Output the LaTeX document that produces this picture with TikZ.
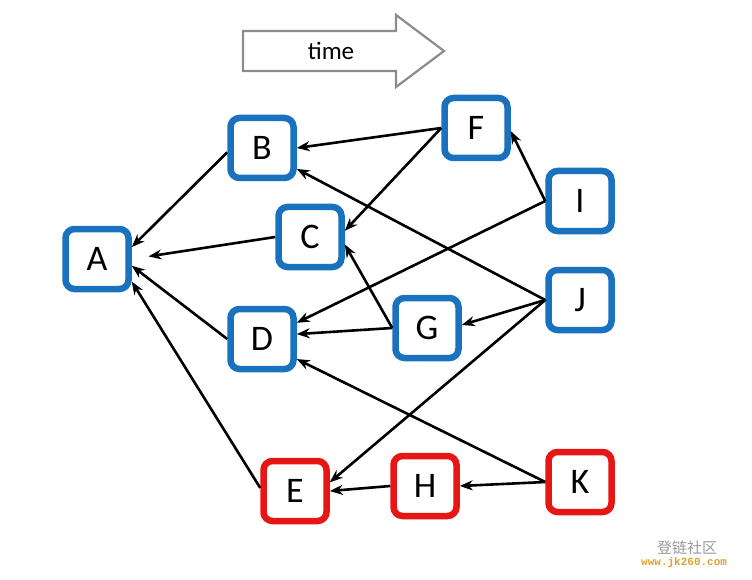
\documentclass[tikz,border=0pt]{standalone}
\usepackage{fontspec}
\setmainfont{Carlito}
\newfontfamily\cjkfont{Noto Sans CJK SC}
\newfontfamily\urlfont{Liberation Mono}
\usetikzlibrary{arrows.meta}
\definecolor{nblue}{HTML}{1A72BF}
\definecolor{nred}{HTML}{E81515}
\definecolor{tgray}{HTML}{8C8C8C}
\definecolor{wmorange}{HTML}{E0A030}
\tikzset{
  vbox/.style={draw=#1, line width=6.5pt, rounded corners=9pt, fill=white,
    minimum width=63pt, minimum height=60pt, inner sep=0pt,
    font=\fontsize{36}{38}\selectfont},
  bluebox/.style={vbox=nblue},
  redbox/.style={vbox=nred},
  edge/.style={line width=2.6pt, -{Stealth[length=13pt,width=10pt]}},
}
\begin{document}
\begin{tikzpicture}[x=1pt,y=-1pt]
\useasboundingbox (0,0) rectangle (752,580);
% time arrow
\draw[tgray, line width=2.2pt, fill=white] (243,31) -- (396,31) -- (396,15) -- (444,51) -- (396,87) -- (396,71) -- (243,71) -- cycle;
\node (time) at (331,51) {\fontsize{25}{27}\selectfont time};
% nodes
\node[bluebox] (A) at (97,259) {A};
\node[bluebox] (B) at (262,148) {B};
\node[bluebox] (C) at (310,237) {C};
\node[bluebox] (D) at (262,339) {D};
\node[redbox] (E) at (295,491) {E};
\node[bluebox] (F) at (476,128) {F};
\node[bluebox] (G) at (427,328) {G};
\node[redbox] (H) at (425,486) {H};
\node[bluebox] (I) at (580,201) {I};
\node[bluebox] (J) at (580,300) {J};
\node[redbox] (K) at (580,482) {K};
% edges
\draw[edge] (B.187) -- (A.19);
\draw[edge, shorten >=17pt] (C.west) -- (A.east);
\draw[edge] (D.west) -- (A.-11);
\draw[edge] (E.175) -- (A.-33);
\draw[edge] (F.west) -- (B.east);
\draw[edge] (F.west) -- (C.10);
\draw[edge] (I.west) -- (F.-5);
\draw[edge] (I.west) -- (D.25);
\draw[edge] (J.west) -- (B.-31);
\draw[edge] (J.west) -- (G.5);
\draw[edge] (J.west) -- (E.14);
\draw[edge] (G.west) -- (D.8);
\draw[edge] (G.west) -- (C.-12);
\draw[edge] (K.west) -- (D.-30);
\draw[edge] (K.west) -- (H.east);
\draw[edge] (H.west) -- (E.east);
% watermark
\node[anchor=west, text=gray!80, inner sep=0pt] (wm1) at (657,548) {\cjkfont\fontsize{15}{16}\selectfont 登链社区};
\node[anchor=west, text=wmorange, inner sep=0pt] (wm2) at (641,563) {\urlfont\bfseries\fontsize{11}{12}\selectfont www.jk260.com};
\end{tikzpicture}
\end{document}
